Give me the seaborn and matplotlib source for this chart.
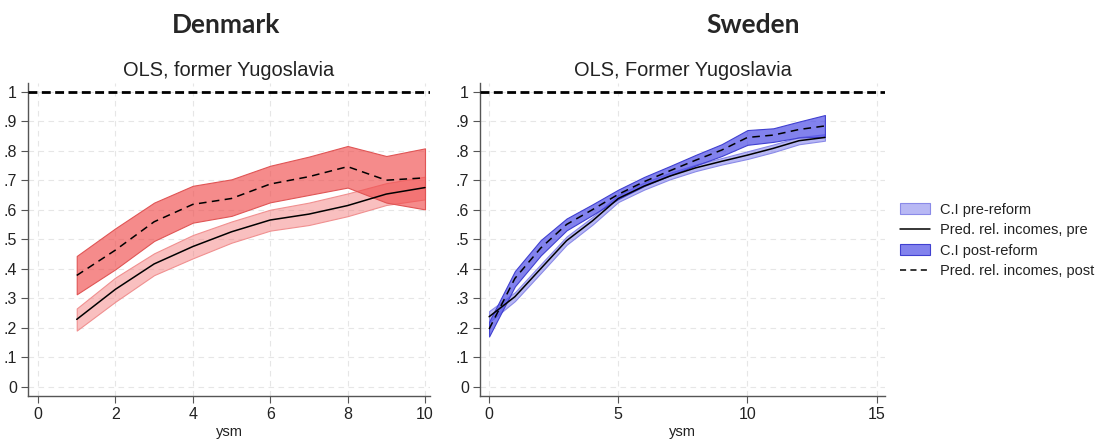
import numpy as np
import pandas as pd
import matplotlib
matplotlib.use("Agg")
import matplotlib.pyplot as plt
import seaborn as sns
from matplotlib.patches import Patch
from matplotlib.lines import Line2D

sns.set_theme(style="white")
plt.rcParams['font.family'] = ['Liberation Sans', 'DejaVu Sans']

# Denmark data
dk_x = [1, 2, 3, 4, 5, 6, 7, 8, 9, 10]
dk_pre = [0.228, 0.330, 0.416, 0.475, 0.525, 0.565, 0.585, 0.614, 0.653, 0.675]
dk_pre_lo = [0.190, 0.288, 0.378, 0.435, 0.488, 0.529, 0.548, 0.578, 0.616, 0.635]
dk_pre_hi = [0.265, 0.370, 0.452, 0.514, 0.560, 0.600, 0.624, 0.655, 0.690, 0.712]
dk_post = [0.377, 0.463, 0.559, 0.618, 0.638, 0.687, 0.712, 0.746, 0.700, 0.708]
dk_post_lo = [0.313, 0.398, 0.494, 0.556, 0.579, 0.625, 0.650, 0.675, 0.624, 0.601]
dk_post_hi = [0.443, 0.537, 0.624, 0.681, 0.703, 0.749, 0.780, 0.816, 0.782, 0.808]

# Sweden data
se_x = [0, 1, 2, 3, 4, 5, 6, 7, 8, 9, 10, 11, 12, 13]
se_pre = [0.237, 0.305, 0.400, 0.495, 0.562, 0.638, 0.680, 0.714, 0.742, 0.764, 0.785, 0.808, 0.834, 0.845]
se_pre_lo = [0.218, 0.290, 0.385, 0.481, 0.549, 0.626, 0.668, 0.703, 0.731, 0.753, 0.772, 0.795, 0.822, 0.834]
se_pre_hi = [0.256, 0.320, 0.415, 0.509, 0.575, 0.650, 0.692, 0.725, 0.753, 0.775, 0.798, 0.821, 0.846, 0.856]
se_post = [0.195, 0.367, 0.470, 0.550, 0.600, 0.652, 0.695, 0.732, 0.768, 0.802, 0.845, 0.853, 0.872, 0.884]
se_post_lo = [0.170, 0.340, 0.445, 0.530, 0.582, 0.636, 0.680, 0.716, 0.750, 0.782, 0.820, 0.830, 0.845, 0.847]
se_post_hi = [0.220, 0.392, 0.497, 0.570, 0.618, 0.668, 0.711, 0.748, 0.786, 0.822, 0.870, 0.876, 0.899, 0.921]

yticks = [0, 0.1, 0.2, 0.3, 0.4, 0.5, 0.6, 0.7, 0.8, 0.9, 1]
ytick_labels = ["0", ".1", ".2", ".3", ".4", ".5", ".6", ".7", ".8", ".9", "1"]

fig = plt.figure(figsize=(10.97, 4.41), dpi=100)
ax1 = fig.add_axes([0.0255, 0.102, 0.3665, 0.710])
ax2 = fig.add_axes([0.4376, 0.102, 0.369, 0.710])


def draw(ax, x, pre, plo, phi, post, qlo, qhi, c_pre, e_pre, c_post, e_post, xlim, xticks, title):
    ax.fill_between(x, plo, phi, facecolor=c_pre, edgecolor=e_pre, linewidth=0.8, zorder=2)
    ax.fill_between(x, qlo, qhi, facecolor=c_post, edgecolor=e_post, linewidth=0.8, zorder=3)
    df_pre = pd.DataFrame({"x": x, "y": pre})
    df_post = pd.DataFrame({"x": x, "y": post})
    sns.lineplot(data=df_pre, x="x", y="y", ax=ax, color="black", linewidth=1.1, zorder=4)
    sns.lineplot(data=df_post, x="x", y="y", ax=ax, color="black", linewidth=1.1,
                 linestyle=(0, (5, 3.5)), zorder=5)
    ax.axhline(1, color="black", linewidth=2, linestyle=(0, (3.2, 1.6)), zorder=6)
    ax.set_xlim(*xlim)
    ax.set_ylim(-0.032, 1.03)
    ax.set_xticks(xticks)
    ax.set_yticks(yticks)
    ax.set_yticklabels(ytick_labels)
    ax.grid(True, color="#e6e6e6", linestyle=(0, (5, 4)), linewidth=0.8)
    ax.set_axisbelow(True)
    for s in ["top", "right"]:
        ax.spines[s].set_visible(False)
    for s in ["left", "bottom"]:
        ax.spines[s].set_color("#555555")
        ax.spines[s].set_linewidth(1.0)
    ax.tick_params(axis="both", which="both", direction="out", length=5, width=0.8,
                   color="#555555", labelsize=11.5, labelcolor="#222222",
                   left=True, bottom=True, pad=3)
    ax.set_xlabel("ysm", fontsize=10.5, color="#222222", labelpad=2)
    ax.set_ylabel("")
    ax.set_title(title, fontsize=14.4, color="#222222", pad=5)


draw(ax1, dk_x, dk_pre, dk_pre_lo, dk_pre_hi, dk_post, dk_post_lo, dk_post_hi,
     (0.95, 0.45, 0.45, 0.45), "#f09090", (0.94, 0.30, 0.30, 0.65), "#e05555",
     (-0.26, 10.13), [0, 2, 4, 6, 8, 10], "OLS, former Yugoslavia")
draw(ax2, se_x, se_pre, se_pre_lo, se_pre_hi, se_post, se_post_lo, se_post_hi,
     (0.45, 0.45, 0.92, 0.5), "#8a8ae8", (0.30, 0.30, 0.90, 0.7), "#4040d0",
     (-0.35, 15.32), [0, 5, 10, 15], "OLS, Former Yugoslavia")

fig.text(0.206, 0.944, "Denmark", ha="center", va="center", fontsize=19,
         fontweight="bold", family=["Lato", "DejaVu Sans"])
fig.text(0.687, 0.944, "Sweden", ha="center", va="center", fontsize=19,
         fontweight="bold", family=["Lato", "DejaVu Sans"])

handles = [
    Patch(facecolor=(0.45, 0.45, 0.92, 0.5), edgecolor="#8a8ae8", linewidth=0.8),
    Line2D([0], [0], color="black", linewidth=1.1),
    Patch(facecolor=(0.30, 0.30, 0.90, 0.7), edgecolor="#4040d0", linewidth=0.8),
    Line2D([0], [0], color="black", linewidth=1.1, linestyle=(0, (4, 2.8))),
]
labels = ["C.I pre-reform", "Pred. rel. incomes, pre", "C.I post-reform",
          "Pred. rel. incomes, post"]
fig.legend(handles, labels, loc="center left", bbox_to_anchor=(0.808, 0.455),
           frameon=False, fontsize=10.5, handlelength=2.1, handleheight=0.8,
           labelspacing=0.45, handletextpad=0.7, labelcolor="#222222")

fig.savefig("out.png", dpi=100)
